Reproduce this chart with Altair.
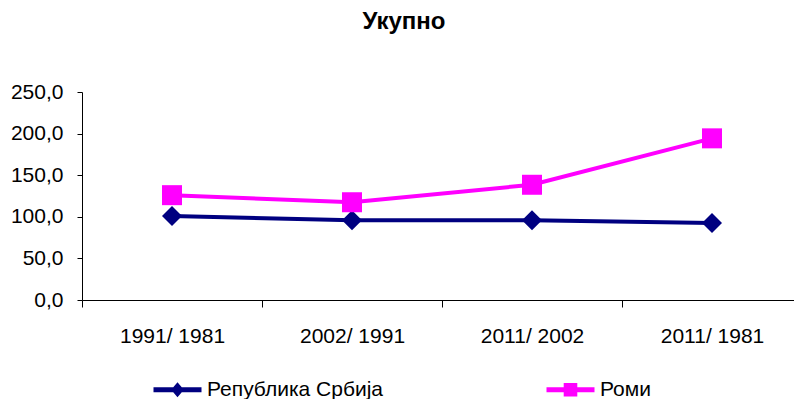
import altair as alt
import pandas as pd

categories = ["1991/ 1981", "2002/ 1991", "2011/ 2002", "2011/ 1981"]
series_names = ["Република Србија", "Роми"]
srbija = [101.0, 95.8, 96.0, 92.5]
romi = [126.0, 117.5, 138.5, 194.3]
colors = ["#000080", "#FF00FF"]
marker_shapes = ["diamond", "square"]
legend_paths = [
    "M-3,-0.3H3V0.3H-3Z M0,-0.95L0.8,0L0,0.95L-0.8,0Z",
    "M-3,-0.3H3V0.3H-3Z M-0.85,-0.85H0.85V0.85H-0.85Z",
]
y_ticks = [0, 50, 100, 150, 200, 250]

rows = []
for name, vals in zip(series_names, [srbija, romi]):
    for c, v in zip(categories, vals):
        rows.append({"cat": c, "series": name, "value": v})
df = pd.DataFrame(rows)

FONT = "Liberation Sans"

x_enc = alt.X(
    "cat:N",
    sort=categories,
    scale=alt.Scale(domain=categories, range=[0, 720], paddingInner=0, paddingOuter=0),
    axis=alt.Axis(
        title=None, labelAngle=0, tickBand="extent", tickSize=7, labelPadding=18,
        labelFontSize=21, labelFont=FONT, labelColor="black",
        domainColor="black", tickColor="black", grid=False,
    ),
)
y_enc = alt.Y(
    "value:Q",
    scale=alt.Scale(domain=[0, 250], nice=False),
    axis=alt.Axis(
        title=None, values=y_ticks, tickSize=5, labelPadding=14,
        labelFontSize=21, labelFont=FONT, labelColor="black",
        labelExpr="replace(format(datum.value, '.1f'), '.', ',')",
        domainColor="black", tickColor="black", grid=False,
    ),
)

base = alt.Chart(df).encode(x=x_enc, y=y_enc)

layers = []
for name, col, shp in zip(series_names, colors, marker_shapes):
    sub = base.transform_filter(alt.datum.series == name)
    layers.append(sub.mark_line(strokeWidth=4, color=col))
    layers.append(
        sub.mark_point(filled=True, size=400, opacity=1, strokeWidth=0, shape=shp, color=col)
    )

leg = alt.Legend(
    title=None, orient="none", legendX=85, legendY=287, direction="horizontal",
    labelFontSize=21, labelFont=FONT, labelColor="black", labelOffset=19,
    symbolSize=256, symbolOpacity=1, symbolStrokeWidth=0, columnPadding=162,
    padding=0, labelLimit=400,
)
legend_layer = base.mark_point(filled=True, size=0, opacity=1, strokeWidth=0).encode(
    color=alt.Color("series:N", scale=alt.Scale(domain=series_names, range=colors), legend=leg),
    shape=alt.Shape("series:N", scale=alt.Scale(domain=series_names, range=legend_paths), legend=leg),
)
layers.append(legend_layer)

chart = (
    alt.layer(*layers)
    .properties(
        width=712,
        height=208,
        autosize=alt.AutoSizeParams(type="none"),
        padding={"left": 74, "top": 84, "right": 0, "bottom": 99},
        title=alt.TitleParams(
            "Укупно", fontSize=24, fontWeight="bold", font=FONT, color="black",
            anchor="middle", dx=-34, offset=47,
        ),
    )
    .configure_view(stroke=None)
)

chart.save("out.html", embed_options={"renderer": "svg", "actions": False})
